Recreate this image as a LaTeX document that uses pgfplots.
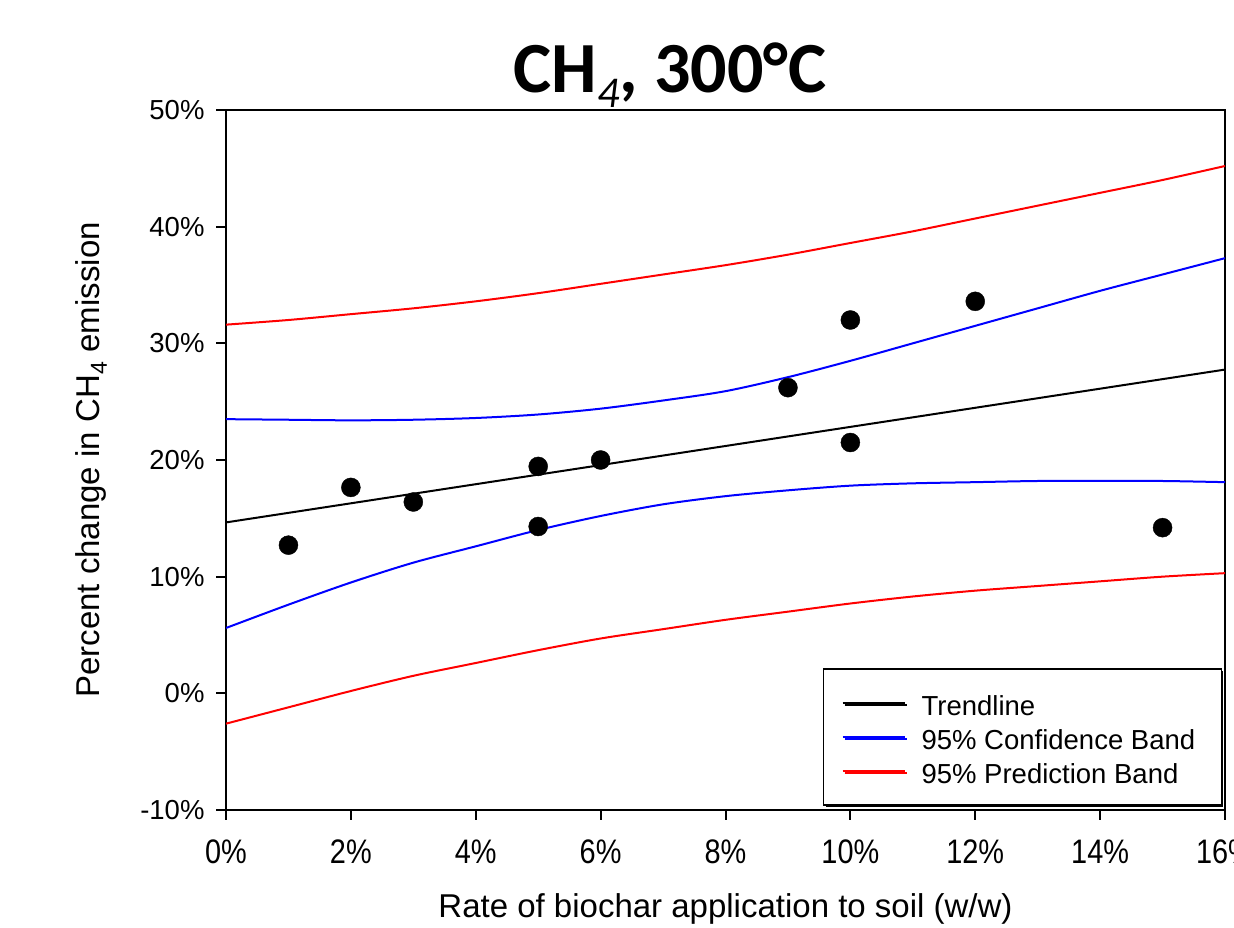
\documentclass[border=0pt]{standalone}
\usepackage{pgfplots}
\pgfplotsset{compat=1.18}
\usepackage{graphicx}
\usepackage{fontspec}
\setmainfont{Liberation Sans}
\newfontfamily\titlefont{Carlito}
\usetikzlibrary{shadows}
\newcommand\nx[1]{\scalebox{0.85}[1]{#1\%}}
\begin{document}
\begin{tikzpicture}[x=1pt,y=1pt]
\useasboundingbox (0,0) rectangle (1234,928);
\node[anchor=base, font=\titlefont\fontsize{72}{80}\selectfont\bfseries] at (670,835) {CH\raisebox{-15pt}{\fontsize{44}{50}\selectfont\mdseries\itshape 4}, 300°C};
\begin{axis}[
  at={(226pt,118pt)}, anchor=south west,
  scale only axis, width=999pt, height=700pt,
  xmin=0, xmax=16, ymin=-10, ymax=50,
  xtick={0,2,4,6,8,10,12,14,16},
  xticklabels={\nx{0},\nx{2},\nx{4},\nx{6},\nx{8},\nx{10},\nx{12},\nx{14},\nx{16}},
  ytick={-10,0,10,20,30,40,50},
  yticklabels={-10\%,0\%,10\%,20\%,30\%,40\%,50\%},
  tick align=outside, tick pos=left,
  major tick length=10pt,
  axis line style={line width=2.5pt},
  xtick style={draw=black, line width=2pt},
  ytick style={draw=black, line width=2pt},
  x tick label style={font=\fontsize{34}{38}\selectfont, yshift=-16pt},
  y tick label style={font=\fontsize{27.5}{30}\selectfont, xshift=-8pt},
  xlabel={Rate of biochar application to soil (w/w)},
  ylabel={Percent change in CH\textsubscript{4} emission},
  xlabel style={font=\fontsize{33}{38}\selectfont, at={(axis description cs:0.5,-0.142)}, anchor=center},
  ylabel style={font=\fontsize{33}{38}\selectfont, at={(axis description cs:-0.135,0.5)}, anchor=center},
  legend cell align=left,
  legend image code/.code={\draw[#1] (0pt,0pt) -- (62pt,0pt);},
  legend style={at={(rel axis cs:0.997,0.006)}, anchor=south east,
    draw=black, line width=1.5pt, fill=white,
    drop shadow={shadow xshift=2pt, shadow yshift=-2pt, opacity=1, fill=black},
    font=\fontsize{27.5}{33}\selectfont,
    inner xsep=18pt, inner ysep=17pt,
    /tikz/every odd column/.append style={column sep=8pt},
    nodes={inner xsep=8pt, inner ysep=4pt, text height=25pt, text depth=1pt}},
]
\addplot[black, line width=2pt] coordinates {(0,14.65) (16,27.75)};
\addlegendentry{Trendline}
\addplot[blue, line width=2pt, smooth] coordinates {
(0,23.5) (1,23.45) (2,23.4) (3,23.45) (4,23.6) (5,23.9) (6,24.4) (7,25.1) (8,25.9)
(9,27.1) (10,28.5) (11,30.0) (12,31.5) (13,33.0) (14,34.5) (15,35.9) (16,37.3)};
\addlegendentry{95\% Confidence Band}
\addplot[red, line width=2pt, smooth] coordinates {
(0,31.6) (1,32.0) (2,32.5) (3,33.0) (4,33.6) (5,34.3) (6,35.1) (7,35.9) (8,36.7)
(9,37.6) (10,38.6) (11,39.6) (12,40.7) (13,41.8) (14,42.9) (15,44.0) (16,45.2)};
\addlegendentry{95\% Prediction Band}
\addplot[blue, line width=2pt, smooth, forget plot] coordinates {
(0,5.6) (1,7.6) (2,9.5) (3,11.2) (4,12.6) (5,14.0) (6,15.2) (7,16.2) (8,16.9)
(9,17.4) (10,17.8) (11,18.0) (12,18.1) (13,18.2) (14,18.2) (15,18.2) (16,18.1)};
\addplot[red, line width=2pt, smooth, forget plot] coordinates {
(0,-2.6) (1,-1.2) (2,0.2) (3,1.5) (4,2.6) (5,3.7) (6,4.7) (7,5.5) (8,6.3)
(9,7.0) (10,7.7) (11,8.3) (12,8.8) (13,9.2) (14,9.6) (15,10.0) (16,10.3)};
\addplot[only marks, mark=*, mark size=9.5pt, black, forget plot] coordinates {
(1,12.7) (2,17.65) (3,16.4) (5,19.45) (5,14.3) (6,20.0) (9,26.2) (10,32.0) (10,21.5) (12,33.6) (15,14.2)};
\end{axis}
\end{tikzpicture}
\end{document}
